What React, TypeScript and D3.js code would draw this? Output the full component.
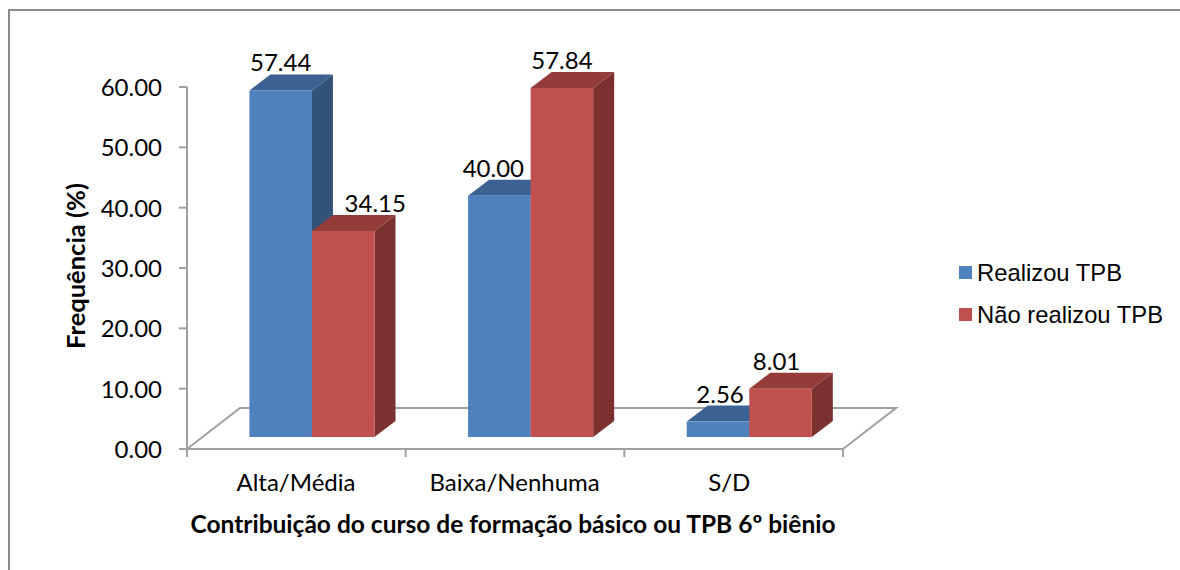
import React from "react";
import * as d3 from "d3";

const categories = ["Alta/Média", "Baixa/Nenhuma", "S/D"];
const seriesNames = ["Realizou TPB", "Não realizou TPB"];
const realizou = [57.44, 40.0, 2.56];
const naoRealizou = [34.15, 57.84, 8.01];
const yTicks = [0, 10, 20, 30, 40, 50, 60];
const faceColors = [
  { front: "#4f81bd", top: "#3b6292", side: "#335279" },
  { front: "#c0504d", top: "#943c3a", side: "#7b3130" },
];

const W = 1180;
const H = 570;
const DX = 21;
const DY = -16;
const FLOOR_DX = 53;
const FLOOR_DY = -41;
const BASE_OFFSET = 12;
const labelShift: Record<string, number> = {
  "Alta/Média|Realizou TPB": 0,
  "Alta/Média|Não realizou TPB": 32,
  "Baixa/Nenhuma|Realizou TPB": -6,
  "Baixa/Nenhuma|Não realizou TPB": 0,
  "S/D|Realizou TPB": 2,
  "S/D|Não realizou TPB": -4,
};

const y = d3.scaleLinear().domain([0, 60]).range([449, 87]);
const x = d3
  .scaleBand<string>()
  .domain(categories)
  .range([187, 843])
  .paddingInner(0.428)
  .paddingOuter(0.214)
  .align(0.667);
const inner = d3.scaleBand<string>().domain(seriesNames).range([0, x.bandwidth()]);

const calibri = "Lato, Carlito, 'Noto Sans', sans-serif";
const arial = "'Liberation Sans', Arial, sans-serif";
const axisColor = "#a0a0a0";
const poly = d3.line();

export default function App() {
  const series = [realizou, naoRealizou];
  const baseY = y(0) - BASE_OFFSET;
  const tickX = [187, ...categories.map((c, i) => 187 + ((i + 1) * (843 - 187)) / categories.length)];
  const bars = categories.flatMap((c, ci) =>
    seriesNames.map((s, si) => ({ c, ci, s, si, v: series[si][ci] }))
  );
  return (
    <svg
      width={W}
      height={H}
      viewBox={`0 0 ${W} ${H}`}
      style={{ position: "absolute", left: 0, top: 0, background: "#fff" }}
    >
      <rect x={9} y={10} width={1180} height={600} fill="#fff" stroke="#8c8c8c" strokeWidth={2} />

      {/* floor */}
      <path
        d={
          poly([
            [187, y(0)],
            [187 + FLOOR_DX, y(0) + FLOOR_DY],
            [843 + FLOOR_DX, y(0) + FLOOR_DY],
            [843, y(0)],
          ]) as string
        }
        fill="none"
        stroke={axisColor}
        strokeWidth={2}
      />

      {/* axes */}
      <line x1={187} x2={187} y1={y(60)} y2={y(0) + 8} stroke={axisColor} strokeWidth={2} />
      <line x1={179} x2={843} y1={y(0)} y2={y(0)} stroke={axisColor} strokeWidth={2} />
      {yTicks.map((t) => (
        <g key={t}>
          <line x1={179} x2={187} y1={y(t)} y2={y(t)} stroke={axisColor} strokeWidth={2} />
          <text x={162} y={y(t) + 9} textAnchor="end" fontFamily={calibri} fontSize={24} fill="#000">
            {t.toFixed(2)}
          </text>
        </g>
      ))}
      {tickX.map((t) => (
        <line key={t} x1={t} x2={t} y1={y(0)} y2={y(0) + 8} stroke={axisColor} strokeWidth={2} />
      ))}

      {/* bars */}
      {bars.map((b) => {
        const x0 = (x(b.c) as number) + (inner(b.s) as number);
        const w = inner.bandwidth();
        const top = baseY - (y(0) - y(b.v));
        const col = faceColors[b.si];
        return (
          <g key={b.c + b.s}>
            <path
              d={poly([[x0 + w, top], [x0 + w + DX, top + DY], [x0 + w + DX, baseY + DY], [x0 + w, baseY]]) + "Z"}
              fill={col.side}
            />
            <path
              d={poly([[x0, top], [x0 + DX, top + DY], [x0 + w + DX, top + DY], [x0 + w, top]]) + "Z"}
              fill={col.top}
            />
            <rect x={x0} y={top} width={w} height={baseY - top} fill={col.front} />
          </g>
        );
      })}

      {/* data labels, above every bar */}
      {bars.map((b) => {
        const x0 = (x(b.c) as number) + (inner(b.s) as number);
        const w = inner.bandwidth();
        const top = baseY - (y(0) - y(b.v));
        return (
          <text
            key={b.c + b.s}
            x={x0 + w / 2 + labelShift[b.c + "|" + b.s]}
            y={top + DY - 3}
            textAnchor="middle"
            fontFamily={calibri}
            fontSize={24}
            fill="#000"
          >
            {b.v.toFixed(2)}
          </text>
        );
      })}

      {/* category labels */}
      {categories.map((c, i) => (
        <text
          key={c}
          x={(x(c) as number) + x.bandwidth() / 2 - 16 - (i === 2 ? 4 : 0)}
          y={491}
          textAnchor="middle"
          fontFamily={calibri}
          fontSize={24}
          fill="#000"
        >
          {c}
        </text>
      ))}

      <text
        x={513}
        y={533}
        textAnchor="middle"
        fontFamily={calibri}
        fontSize={24.5}
        fontWeight={700}
        fill="#000"
      >
        Contribuição do curso de formação básico ou TPB 6º biênio
      </text>
      <text
        transform="translate(85,266) rotate(-90)"
        textAnchor="middle"
        fontFamily={calibri}
        fontSize={25.5}
        fontWeight={700}
        fill="#000"
      >
        Frequência (%)
      </text>

      {/* legend */}
      {seriesNames.map((s, i) => (
        <g key={s}>
          <rect x={959} y={266 + i * 42} width={13} height={13} fill={faceColors[i].front} />
          <text x={977} y={281 + i * 42} fontFamily={arial} fontSize={23.8} fill="#000">
            {s}
          </text>
        </g>
      ))}
    </svg>
  );
}
